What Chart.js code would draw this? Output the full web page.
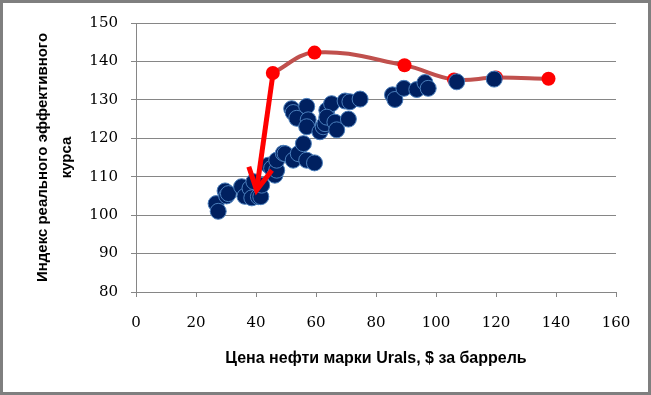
<!DOCTYPE html>
<html><head><meta charset="utf-8">
<script src="https://cdn.jsdelivr.net/npm/chart.js@4/dist/chart.umd.min.js"></script>
<style>html,body{margin:0;padding:0;background:#fff}#wrap{width:651px;height:395px}</style>
</head><body><div id="wrap"><canvas id="c" width="651" height="395"></canvas></div>
<script>
// Observed data: oil price (Urals, $/bbl) vs real effective exchange rate index
const scatterX = [26.7,27.4,29.7,30.2,30.8,35.2,36.3,38.0,38.6,39.3,40.8,41.6,41.9,44.1,45.2,46.3,46.9,46.9,49.1,49.7,52.4,54.1,55.8,56.9,59.5,51.9,52.4,53.6,56.9,57.4,56.9,61.3,62.4,63.0,63.6,65.2,63.6,66.3,66.9,69.7,70.8,71.3,74.7,85.5,86.3,89.3,93.6,96.3,97.4,106.9,119.4];
const scatterY = [103.0,101.0,106.3,105.0,105.6,107.4,104.9,107.0,104.5,108.7,104.8,104.8,107.8,113.0,112.2,110.4,111.7,114.3,116.1,116.0,114.3,116.0,118.6,114.3,113.6,127.7,126.7,125.2,128.3,124.8,123.0,121.7,123.0,123.8,127.3,129.0,125.5,124.2,122.2,129.7,125.0,129.5,130.2,131.3,130.1,133.0,132.7,134.5,133.0,134.7,135.4];
// Highlighted path (red line)
const pathX = [45.6,59.5,89.5,106.0,120.0,137.5];
const pathY = [137.0,142.3,139.0,135.3,135.8,135.5];
// Arrow: shaft and head
const arrowShaftX = [45.7,40.2];
const arrowShaftY = [137.0,106.5];
const arrowHeadX = [37.6,40.2,45.3];
const arrowHeadY = [112.6,106.5,111.7];
// Axis ticks
const xTicks = [0,20,40,60,80,100,120,140,160];
const yTicks = [80,90,100,110,120,130,140,150];
const xTitle = 'Цена нефти марки Urals, $ за баррель';
const yTitle = ['Индекс реального эффективного','курса'];

const zip = (xs, ys) => xs.map((x,i)=>({x, y: ys[i]}));

const frame = {
  id:'frame',
  beforeDraw(chart){
    const ctx = chart.ctx;
    ctx.save();
    ctx.fillStyle='#fff';
    ctx.fillRect(0,0,chart.width,chart.height);
    ctx.restore();
  },
  afterDraw(chart){
    const ctx = chart.ctx;
    ctx.save();
    ctx.strokeStyle='#7f7f7f';
    ctx.lineWidth=3;
    ctx.strokeRect(1.5,1.5,chart.width-3,chart.height-3);
    ctx.restore();
  }
};

const gridColor = '#868686';
new Chart(document.getElementById('c'), {
  type:'scatter',
  data:{
    datasets:[
      {label:'arrowShaft', data: zip(arrowShaftX, arrowShaftY), showLine:true, borderColor:'#ff0000', borderWidth:5, pointRadius:0, order:0, borderCapStyle:'butt'},
      {label:'arrowHead', data: zip(arrowHeadX, arrowHeadY), showLine:true, borderColor:'#ff0000', borderWidth:5, pointRadius:0, order:0, borderJoinStyle:'miter', borderCapStyle:'butt'},
      {label:'obs', data: zip(scatterX, scatterY), backgroundColor:'#002060', borderColor:'#4a7ebb', borderWidth:1, pointRadius:8, order:1},
      {label:'path', data: zip(pathX, pathY), showLine:true, borderColor:'#c0504d', borderWidth:4, tension:0.4, pointRadius:7, pointBackgroundColor:'#ff0000', pointBorderColor:'#ff0000', pointBorderWidth:0, order:2}
    ]
  },
  options:{
    responsive:false, animation:false, devicePixelRatio:1,
    layout:{padding:{top:23,right:35,left:0,bottom:0}},
    plugins:{legend:{display:false}, tooltip:{enabled:false}},
    scales:{
      x:{type:'linear', min:0, max:160,
        afterBuildTicks(s){ s.ticks = xTicks.map(v=>({value:v})); },
        afterFit(s){ s.height = 395-292; },
        ticks:{font:{family:'DejaVu Serif', size:15}, color:'#000', padding:17},
        grid:{display:true, drawOnChartArea:false, drawTicks:true, tickLength:5, color:gridColor},
        border:{display:true, color:gridColor, width:1},
        title:{display:true, text:xTitle, font:{family:'Liberation Sans', size:16, weight:'bold'}, color:'#000', padding:{bottom:27}}
      },
      y:{type:'linear', min:80, max:150,
        afterBuildTicks(s){ s.ticks = yTicks.map(v=>({value:v})); },
        afterFit(s){ s.width = 136; },
        ticks:{font:{family:'DejaVu Serif', size:15}, color:'#000', padding:13},
        grid:{display:true, drawTicks:true, tickLength:5, color:gridColor, lineWidth:1},
        border:{display:true, color:gridColor, width:1},
        title:{display:true, text:yTitle, font:{family:'Liberation Sans', size:15, weight:'bold', lineHeight:1.6}, color:'#000', padding:{top:31}}
      }
    }
  },
  plugins:[frame]
});
</script>
</body></html>
